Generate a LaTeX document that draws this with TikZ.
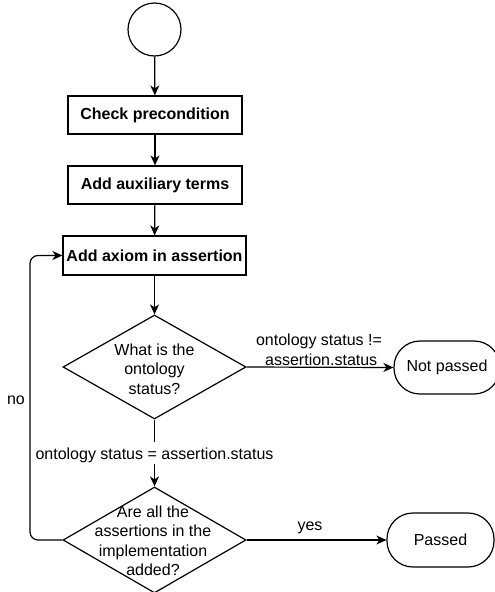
\documentclass[tikz,border=0pt]{standalone}
\usepackage{fontspec}
\setmainfont{Liberation Sans}
\usetikzlibrary{arrows.meta,shapes.geometric}
\begin{document}
\begin{tikzpicture}[x=1pt,y=-1pt,
  line width=1.2pt,
  every node/.style={font=\fontsize{16}{19.5}\selectfont},
  proc/.style={draw,rectangle,minimum width=174pt,minimum height=38pt,inner sep=0pt,font=\fontsize{16}{19.5}\selectfont\bfseries},
  dec/.style={draw,diamond,minimum width=183pt,minimum height=104pt,inner sep=0pt},
  term/.style={draw,rectangle,rounded corners=26pt,minimum width=106pt,minimum height=53pt,inner sep=0pt},
  lbl/.style={align=center,inner sep=1pt},
  arr/.style={-{Stealth[length=10pt,width=9pt,inset=3pt]}}
]
\useasboundingbox (0,0) rectangle (495,592);
\node[draw,circle,minimum size=53pt,inner sep=0pt] (start) at (154.5,29.5) {};
\node[proc] (c1) at (155,115) {Check precondition};
\node[proc] (c2) at (155,185) {Add auxiliary terms};
\node[proc,minimum width=183pt,minimum height=39pt] (c3) at (154.5,255.5) {Add axiom in assertion};
\node[dec] (d1) at (154.5,367) {};
\node[lbl] (d1t) at (154.5,369) {What is the\\ontology\\status?};
\node[dec,minimum height=106pt] (d2) at (154.5,540) {};
\node[lbl] (d2t) at (153,541) {Are all the\\assertions in the\\implementation\\added?};
\node[term] (np) at (447,367.5) {Not passed};
\node[term,minimum width=107pt,minimum height=54pt] (ps) at (440.5,540) {Passed};
\draw[arr] (start) -- (c1);
\draw[arr] (c1) -- (c2);
\draw[arr] (c2) -- (c3);
\draw[arr] (c3) -- (d1);
\draw[arr] (d1.east) -- (np.west);
\node[lbl] (l1) at (319,350) {ontology status !=\\\ assertion.status};
\draw (d1.south) -- ++(0,22) coordinate (m1);
\node[lbl] (l2) at (154.5,455) {ontology status = assertion.status};
\draw[arr] (l2.south) -- (d2.north);
\draw[arr] (d2.east) -- (ps.west);
\node[lbl] (l3) at (310,528) {yes};
\draw[arr,rounded corners=8pt] (d2.west) -- (30,540) -- (30,255.5) -- (c3.west);
\node[lbl] (l4) at (16,400) {no};
\end{tikzpicture}
\end{document}
